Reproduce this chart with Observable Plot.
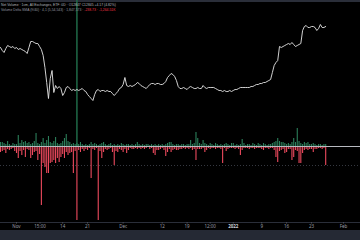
<!DOCTYPE html>
<html><head><meta charset="utf-8">
<script src="https://cdn.jsdelivr.net/npm/d3@7"></script>
<script src="https://cdn.jsdelivr.net/npm/@observablehq/plot@0.6"></script>
<style>
html,body{margin:0;padding:0;background:#000;}
#wrap{position:relative;width:360px;height:240px;background:#000;overflow:hidden;font-family:"Liberation Sans",Arial,sans-serif;}
#wrap > *{position:absolute;left:0;display:block;}
</style></head><body><div id="wrap"></div>
<script>
// ---- data (12-hour bars starting 2021-10-27 12:00 UTC) ----
const startDate = new Date(Date.UTC(2021, 9, 27, 12));
const price = [85,82,80,84,87,86,85,86,84,85,
 83,84,83,82,81,79,85,91,91,90,
 89,89,86,83,77,65,50,34,54,62,
 40,47,44,46,44,37,40,45,46,44,
 42,43,42,43,42,43,44,42,41,38,
 36,34,32,38,42,43,41,42,42,41,
 42,41,41,39,37,39,41,44,45,48,
 55,47,46,47,46,47,48,50,49,47,
 46,45,44,46,48,49,49,48,49,49,
 48,48,49,51,55,57,59,58,56,52,
 46,44,44,45,44,43,45,46,45,44,
 44,45,44,44,47,45,44,45,45,45,
 45,44,43,42,42,41,42,41,41,42,
 41,42,43,43,44,45,45,45,45,45,
 45,46,46,47,48,48,49,49,50,50,
 51,52,53,60,67,70,72,86,85,86,
 87,88,89,88,90,88,86,87,88,89,
 102,106,107,105,105,106,106,105,102,104,
 108,105,105,106];
const buyVolume = [4,4,3,2,5,2,1,3,2,2,
 11,3,6,4,5,3,4,2,3,5,
 13,3,2,4,8,3,6,10,4,3,
 5,9,3,2,3,5,8,12,5,4,
 2,3,2,3,2,4,2,1,2,1,
 2,4,2,3,2,1,2,3,4,2,
 1,2,3,1,2,1,2,1,3,2,
 1,2,2,1,2,1,2,4,2,1,
 2,1,2,2,1,2,1,2,1,2,
 1,2,1,2,3,4,4,2,1,2,
 2,1,2,2,1,2,2,6,2,3,
 14,8,3,2,6,3,2,1,3,2,
 1,3,2,1,2,1,2,3,2,1,
 3,3,1,2,1,2,7,3,1,2,
 2,1,3,2,1,3,2,1,3,2,
 1,2,2,3,4,5,8,5,4,4,
 3,2,3,2,4,8,4,18,5,3,
 2,4,3,4,2,2,3,2,1,2,
 2,1,2,2];
const sellVolume = [6,5,4,7,3,4,3,2,5,7,
 12,5,9,4,11,3,4,12,9,6,
 5,14,8,59,17,21,27,27,17,16,
 14,17,12,16,11,8,12,6,9,7,
 6,27,5,74,4,6,3,5,3,4,
 2,32,3,4,2,74,5,12,6,3,
 4,3,2,6,19,5,6,3,4,6,
 3,7,4,2,3,3,2,3,2,3,
 2,3,2,1,3,2,7,9,4,4,
 3,2,4,10,6,3,6,4,3,4,
 4,3,3,2,3,2,3,2,4,3,
 14,3,3,3,2,6,4,2,3,2,
 2,3,2,2,3,17,2,5,3,2,
 2,2,3,2,3,9,4,2,2,2,
 3,2,2,3,2,2,2,3,4,2,
 2,3,2,2,4,11,16,5,4,3,
 7,6,3,3,14,11,4,5,17,17,
 7,4,3,4,3,3,6,3,3,2,
 2,3,2,19];
const tickDates = [
  new Date(Date.UTC(2021,10,1)), new Date(Date.UTC(2021,10,7,15)), new Date(Date.UTC(2021,10,14)),
  new Date(Date.UTC(2021,10,21)), new Date(Date.UTC(2021,11,1)), new Date(Date.UTC(2021,11,12)),
  new Date(Date.UTC(2021,11,19)), new Date(Date.UTC(2021,11,25,12)), new Date(Date.UTC(2022,0,1)),
  new Date(Date.UTC(2022,0,9)), new Date(Date.UTC(2022,0,16)), new Date(Date.UTC(2022,0,23)),
  new Date(Date.UTC(2022,1,1))];
const tickLabels = ["Nov","15:00","14","21","Dec","12","19","12:00","2022","9","16","23","Feb"];
const markerDate = new Date(Date.UTC(2021,10,18));
const xDomain = [startDate, new Date(Date.UTC(2022,1,5,19))];
const dottedLevel = -19;
const headerLine1 = "Net Volume · 1cm, All Exchanges, ETF: 0D · O12847 C12845 +4.17 (4.82%)";
const headerLine2a = "Volume Delta SMA (9/40) · 4,1 (5,54,543) · 1,847,573 · ";
const headerLine2b = "-238.73 · -1,264.51K";

// ---- build ----
const dates = price.map((_, i) => d3.utcHour.offset(startDate, 12 * i));
const priceData = price.map((v, i) => ({date: dates[i], price: v}));
const volData = buyVolume.map((b, i) => ({date: dates[i], buy: b, sell: -sellVolume[i]}));
const labelMap = new Map(tickDates.map((d, i) => [+d, tickLabels[i]]));

const wrap = document.getElementById("wrap");

const band = document.createElement("div");
band.style.cssText = "top:0;width:360px;height:2px;background:#2a2e39;";
wrap.appendChild(band);

const pricePlot = Plot.plot({
  width: 360, height: 120, margin: 0,
  style: {background: "transparent"},
  x: {type: "utc", domain: xDomain, axis: null},
  y: {domain: [12, 132], axis: null},
  marks: [
    Plot.ruleX([markerDate], {stroke: "#1f6a48", strokeWidth: 1.5}),
    Plot.line(priceData, {x: "date", y: "price", stroke: "#e8e8e8", strokeWidth: 0.9})
  ]
});
pricePlot.style.top = "0px";
wrap.appendChild(pricePlot);

const volPlot = Plot.plot({
  width: 360, height: 110, marginTop: 0, marginBottom: 8, marginLeft: 0, marginRight: 0,
  style: {background: "transparent", overflow: "visible"},
  x: {type: "utc", domain: xDomain},
  y: {domain: [-76, 26], axis: null},
  marks: [
    Plot.ruleY([-76], {stroke: "#2a2e39", strokeWidth: 1}),
    Plot.ruleY([dottedLevel], {stroke: "#434651", strokeDasharray: "1,2", strokeWidth: 0.8}),
    Plot.ruleX([markerDate], {y1: 0, y2: 26, stroke: "#1f6a48", strokeWidth: 1.5}),
    Plot.ruleX(volData, {x: "date", y1: 0, y2: "buy", stroke: "#2b7f5a", strokeWidth: 1.1}),
    Plot.ruleX(volData, {x: "date", y1: 0, y2: "sell", stroke: "#ee4a5e", strokeWidth: 1.1}),
    Plot.ruleY([0], {stroke: "#b8bac0", strokeWidth: 1}),
    Plot.axisX({ticks: tickDates.filter((d, i) => tickLabels[i] !== "2022"), tickFormat: d => labelMap.get(+d),
      tickSize: 1.5, tickPadding: 1, fontSize: 4.5, fill: "#9a9ca4", stroke: "#4a4e59"}),
    Plot.axisX({ticks: tickDates.filter((d, i) => tickLabels[i] === "2022"), tickFormat: d => labelMap.get(+d),
      tickSize: 1.5, tickPadding: 1, fontSize: 4.5, fontWeight: "bold", fill: "#d1d4dc", stroke: "#4a4e59"})
  ]
});
volPlot.style.top = "120px";
wrap.appendChild(volPlot);

const bottom = document.createElement("div");
bottom.style.cssText = "top:230px;width:360px;height:10px;background:#252934;";
wrap.appendChild(bottom);

const hdr = d3.create("svg").attr("width", 360).attr("height", 14)
  .style("top", "0px").style("font-family", "Liberation Sans, Arial, sans-serif");
hdr.append("text").attr("x", 1).attr("y", 5.5).attr("font-size", 3.4).attr("fill", "#b2b5be").text(headerLine1);
const t2 = hdr.append("text").attr("x", 1).attr("y", 11).attr("font-size", 3.4);
t2.append("tspan").attr("fill", "#9598a1").text(headerLine2a);
t2.append("tspan").attr("fill", "#f23645").text(headerLine2b);
wrap.appendChild(hdr.node());
</script></body></html>
